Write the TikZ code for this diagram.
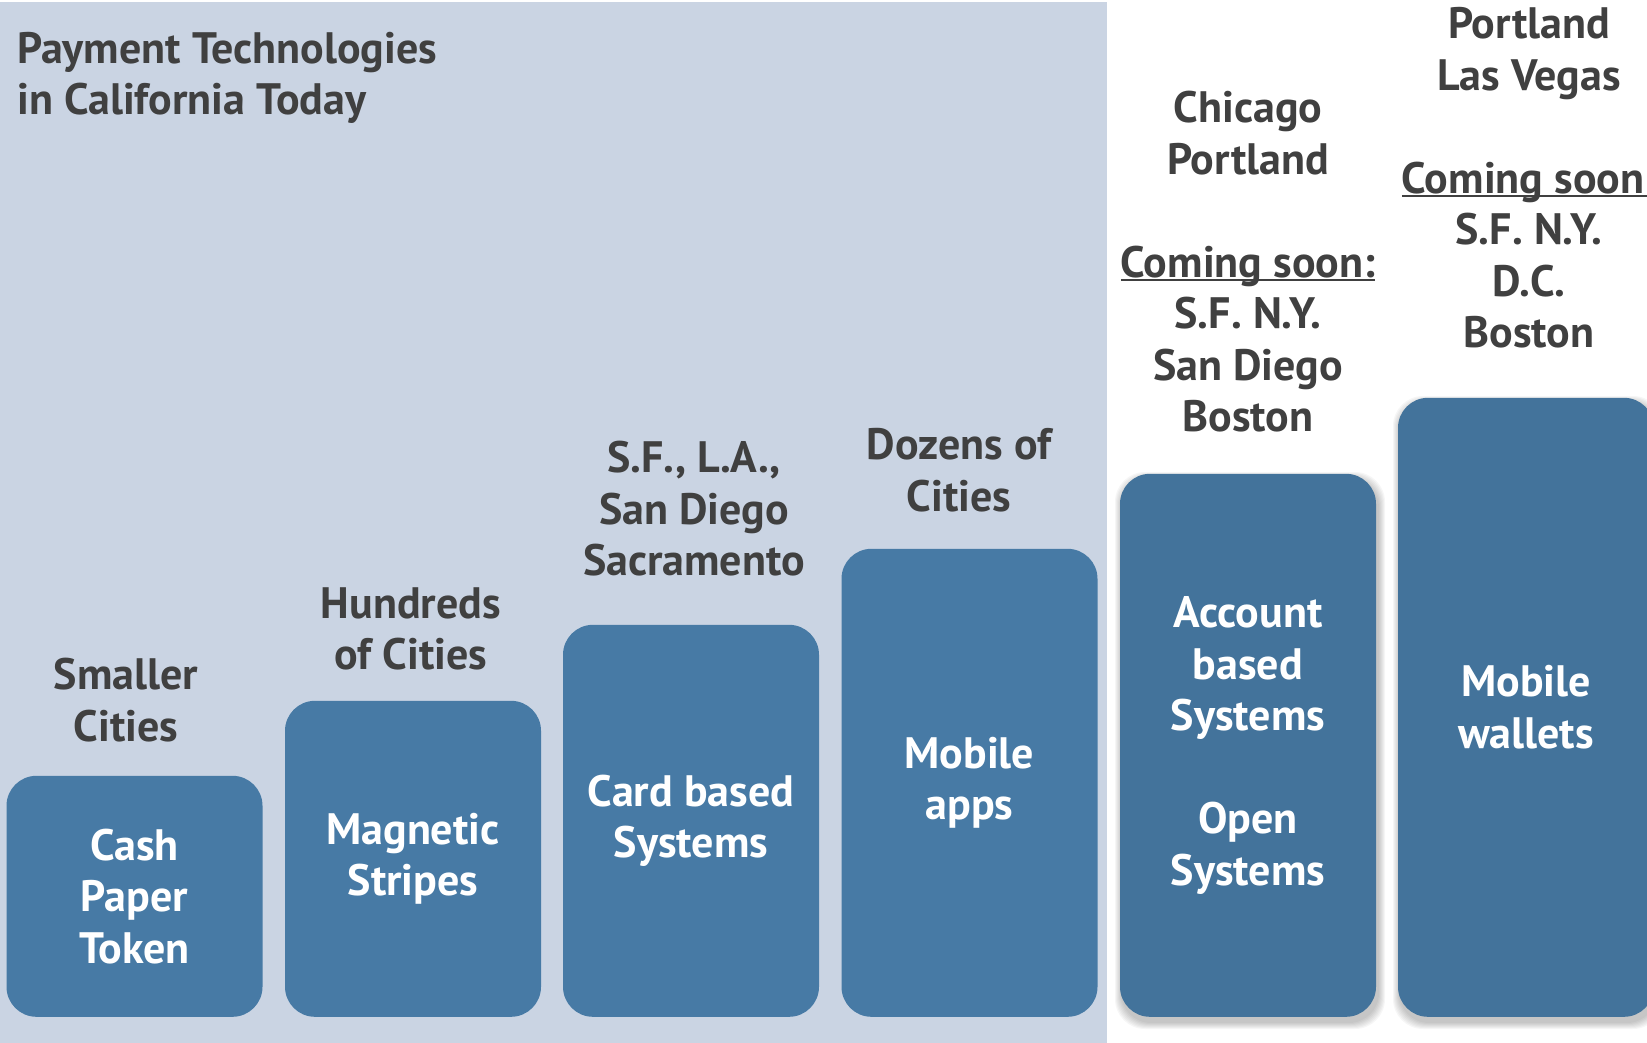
\documentclass[tikz,border=0pt]{standalone}
\usepackage{fontspec}
\setmainfont{PT Sans}
\usetikzlibrary{positioning}

\definecolor{panelblue}{HTML}{CAD4E3}
\definecolor{barblue}{HTML}{477AA5}
\definecolor{bardark}{HTML}{43739B}
\definecolor{inkgray}{HTML}{404040}

% underline that runs through the descenders
\newsavebox{\soonbox}
\newcommand{\soonline}[1]{\sbox{\soonbox}{#1}\rlap{\rule[-4pt]{\wd\soonbox}{2pt}}\usebox{\soonbox}}

% soft shadow behind a bar: left, top, right, bottom
\newcommand{\barshadow}[4]{%
  \foreach \s in {1,...,7} {
    \fill[black, opacity=0.035, rounded corners=30pt]
      (#1-\s+2, #2-\s+5) rectangle (#3+\s+2, #4+\s+5);
  }}

\begin{document}
\begin{tikzpicture}[x=1pt, y=-1pt,
  every node/.style={font=\bfseries\fontsize{44}{51.5}\selectfont, align=center, inner sep=0pt},
  bar/.style={rounded corners=30pt, fill=barblue, text=white, minimum width=256pt, anchor=south},
  cities/.style={text=inkgray}]
\useasboundingbox (0,0) rectangle (1647,1043);
\clip (0,0) rectangle (1647,1043);

% Background panel for California
\fill[panelblue] (0,2) rectangle (1107,1043);

% Title
\node[cities, anchor=west, align=left] (title) at (17,78) {Payment Technologies\\in California Today};

% Bars, growing to the right
\node[bar, minimum height=241pt] (cash) at (134.5,1017) {Cash\\Paper\\Token};
\node[bar, minimum height=316pt] (stripe) at (413,1017) {Magnetic\\Stripes};
\node[bar, minimum height=392pt] (card) at (691,1017) {Card based\\Systems};
\node[bar, minimum height=468pt] (apps) at (969.5,1017) {Mobile\\apps};

% Outside California: bars with shadow
\barshadow{1120}{474}{1376}{1017}
\barshadow{1398}{398}{1654}{1017}
\node[bar, fill=bardark, minimum height=543pt] (account) at (1248,1017)
  {Account\\based\\Systems\\[51.5pt]Open\\Systems};
\node[bar, fill=bardark, minimum height=619pt] (wallet) at (1526,1017) {Mobile\\wallets};

% Where each one is used
\node[cities] (smaller) at (126,700) {Smaller\\Cities};
\node[cities] (hundreds) at (411,629) {Hundreds\\of Cities};
\node[cities] (bigcities) at (694,509) {S.F., L.A.,\\San Diego\\Sacramento};
\node[cities] (dozens) at (959,470) {Dozens of\\Cities};
\node[cities] (chicago) at (1248,262)
  {Chicago\\Portland\\[51.5pt]\soonline{Coming soon:}\\S.F. N.Y.\\San Diego\\Boston};
\node[cities] (vegas) at (1529,178)
  {Portland\\Las Vegas\\[51.5pt]\soonline{Coming soon:}\\S.F. N.Y.\\D.C.\\Boston};
\end{tikzpicture}
\end{document}
